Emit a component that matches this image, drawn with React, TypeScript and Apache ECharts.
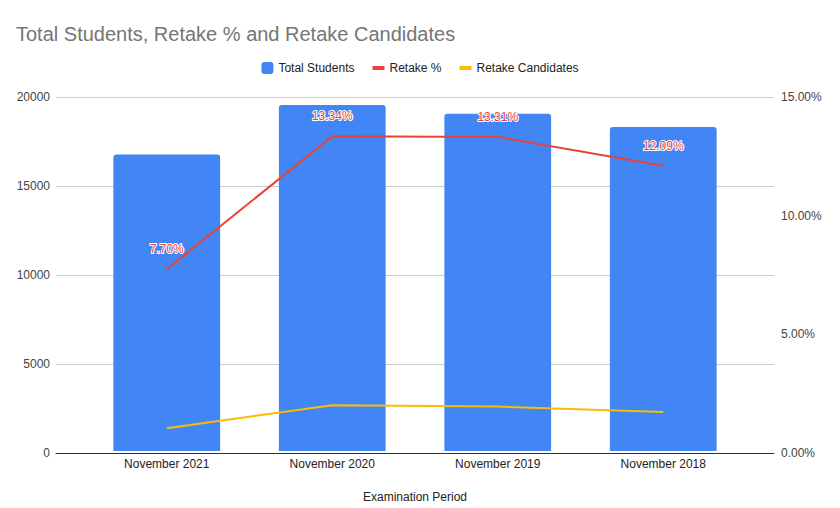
import React, { useEffect, useRef } from "react";
import * as echarts from "echarts";

const categories = ["November 2021", "November 2020", "November 2019", "November 2018"];
const totalStudents = [16750, 19550, 19050, 18300];
const retakePct = [7.7, 13.34, 13.31, 12.09];
const retakeCandidates = [1290, 2585, 2510, 2210];
const leftTicks = { min: 0, max: 20000, interval: 5000 };
const rightTicks = { min: 0, max: 15, interval: 5 };

const FONT = "'Liberation Sans', Arial, sans-serif";

export default function App() {
  const ref = useRef<HTMLDivElement>(null);
  useEffect(() => {
    document.body.style.margin = "0";
    const chart = echarts.init(ref.current!, null, { renderer: "svg" });
    const gridTop = 97;
    const gridBottom = 55;
    chart.setOption({
      animation: false,
      textStyle: { fontFamily: FONT },
      title: {
        text: "Total Students, Retake % and Retake Candidates",
        left: 11,
        top: 19,
        textStyle: { fontFamily: FONT, fontSize: 20, fontWeight: "normal", color: "#757575" },
      },
      legend: {
        top: 57,
        left: "center",
        itemWidth: 12,
        itemHeight: 12,
        itemGap: 18,
        textStyle: { fontFamily: FONT, fontSize: 12, color: "#222" },
        data: [
          { name: "Total Students", icon: "roundRect" },
          { name: "Retake %", icon: "path://M0,0H12V4H0Z" },
          { name: "Retake Candidates", icon: "path://M0,0H12V4H0Z" },
        ],
      },
      grid: [
        { left: 56, right: 66, top: gridTop, bottom: gridBottom },
        { left: 84, right: 94, top: gridTop, bottom: gridBottom },
      ],
      xAxis: [
        {
          gridIndex: 0,
          type: "value",
          min: 0,
          max: 1,
          axisLine: { show: true, lineStyle: { color: "#333", width: 1 } },
          axisTick: { show: false },
          axisLabel: { show: false },
          splitLine: { show: false },
        },
        {
          gridIndex: 1,
          type: "category",
          data: categories,
          axisLine: { show: false },
          axisTick: { show: false },
          axisLabel: { color: "#222", fontSize: 12, margin: 7, fontFamily: FONT },
          name: "Examination Period",
          nameLocation: "middle",
          nameGap: 40,
          nameTextStyle: { color: "#222", fontSize: 12, fontFamily: FONT },
        },
      ],
      yAxis: [
        {
          gridIndex: 0,
          type: "value",
          position: "left",
          ...leftTicks,
          axisLine: { show: false },
          axisTick: { show: false },
          axisLabel: {
            color: "#444",
            fontSize: 12,
            margin: 6,
            fontFamily: FONT,
            formatter: (v: number) => String(v),
          },
          splitLine: { show: true, lineStyle: { color: "#ccc", width: 1 } },
        },
        {
          gridIndex: 0,
          type: "value",
          position: "right",
          ...rightTicks,
          axisLine: { show: false },
          axisTick: { show: false },
          axisLabel: {
            color: "#444",
            fontSize: 12,
            margin: 7,
            fontFamily: FONT,
            formatter: (v: number) => v.toFixed(2) + "%",
          },
          splitLine: { show: false },
        },
        { gridIndex: 1, type: "value", ...leftTicks, show: false, splitLine: { show: false } },
        { gridIndex: 1, type: "value", ...rightTicks, show: false, splitLine: { show: false } },
      ],
      series: [
        {
          name: "Total Students",
          type: "bar",
          xAxisIndex: 1,
          yAxisIndex: 2,
          data: totalStudents,
          barWidth: "64.5%",
          itemStyle: { color: "#4285F4", borderRadius: [3, 3, 0, 0] },
        },
        {
          name: "Retake %",
          type: "line",
          xAxisIndex: 1,
          yAxisIndex: 3,
          data: retakePct,
          showSymbol: true,
          symbol: "circle",
          symbolSize: 0,
          lineStyle: { color: "#EA4335", width: 2 },
          itemStyle: { color: "#EA4335" },
          label: {
            show: true,
            position: "top",
            distance: 14,
            formatter: (p: any) => Number(p.value).toFixed(2) + "%",
            color: "#EA4335",
            fontSize: 12,
            fontFamily: FONT,
            textBorderColor: "#fff",
            textBorderWidth: 2,
          },
          z: 4,
        },
        {
          name: "Retake Candidates",
          type: "line",
          xAxisIndex: 1,
          yAxisIndex: 2,
          data: retakeCandidates,
          showSymbol: false,
          symbol: "none",
          lineStyle: { color: "#FBBC04", width: 2 },
          itemStyle: { color: "#FBBC04" },
          z: 3,
        },
      ],
    });
    return () => chart.dispose();
  }, []);
  return (
    <div
      ref={ref}
      style={{ position: "fixed", left: 0, top: 0, width: 840, height: 508, background: "#fff" }}
    />
  );
}
